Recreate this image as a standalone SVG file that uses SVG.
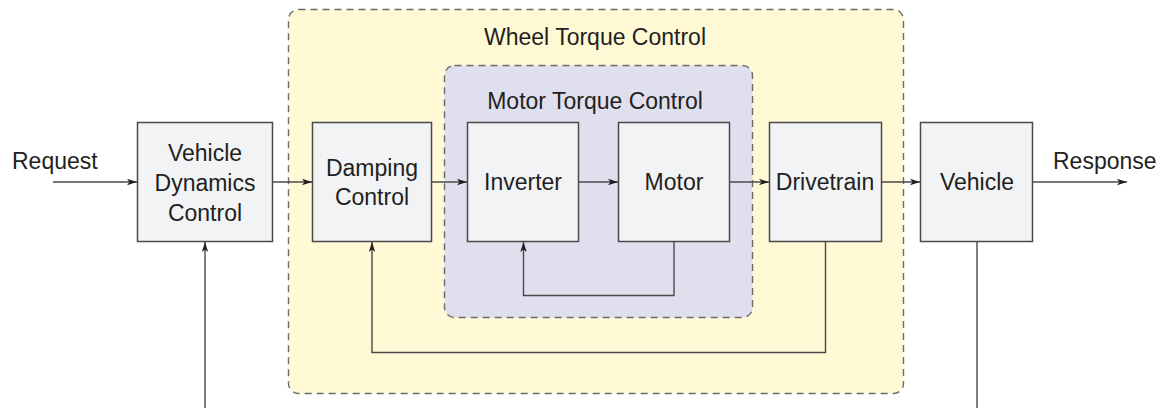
<svg xmlns="http://www.w3.org/2000/svg" width="1164" height="408" viewBox="0 0 1164 408">
<defs>
<style>
text{font-family:"Liberation Sans",Arial,sans-serif;font-size:23px;fill:#231f20}
.c{text-anchor:middle}
.box{fill:#f2f3f5;stroke:#4a4a4a;stroke-width:1.5}
.grp{stroke:#6b6b6b;stroke-width:1.4;stroke-dasharray:7 5}
.ln{fill:none;stroke:#4a4a4a;stroke-width:1.4}
</style>
<marker id="ah" viewBox="0 0 10 8" refX="10" refY="4" markerWidth="10" markerHeight="8" markerUnits="userSpaceOnUse" orient="auto">
<path d="M0,0.8 L10,4 L0,7.2 L2.5,4 z" fill="#231f20"/>
</marker>
</defs>
<rect width="1164" height="408" fill="#ffffff"/>
<g id="wheel-torque-control">
<rect class="grp" x="288.5" y="9.5" width="615" height="384" rx="10" fill="#fff9d6"/>
<text class="c" x="595" y="45">Wheel Torque Control</text>
</g>
<g id="motor-torque-control">
<rect class="grp" x="444.5" y="65.5" width="308" height="252" rx="10" fill="#e0dfee"/>
<text class="c" x="595" y="109">Motor Torque Control</text>
</g>
<g id="vehicle-dynamics-control">
<rect class="box" x="137.5" y="122.5" width="135" height="119"/>
<text class="c" x="205" y="161">Vehicle</text>
<text class="c" x="205" y="191">Dynamics</text>
<text class="c" x="205" y="221">Control</text>
</g>
<g id="damping-control">
<rect class="box" x="312.5" y="122.5" width="119" height="119"/>
<text class="c" x="372" y="175.5">Damping</text>
<text class="c" x="372" y="205">Control</text>
</g>
<g id="inverter">
<rect class="box" x="467.5" y="122.5" width="111" height="119"/>
<text class="c" x="523" y="190">Inverter</text>
</g>
<g id="motor">
<rect class="box" x="618.5" y="122.5" width="111" height="119"/>
<text class="c" x="674" y="190">Motor</text>
</g>
<g id="drivetrain">
<rect class="box" x="769.5" y="122.5" width="112" height="119"/>
<text class="c" x="825" y="190">Drivetrain</text>
</g>
<g id="vehicle">
<rect class="box" x="920.5" y="122.5" width="112" height="119"/>
<text class="c" x="977" y="190">Vehicle</text>
</g>
<g id="labels">
<text x="12" y="169">Request</text>
<text x="1053" y="169">Response</text>
</g>
<g id="connectors">
<path class="ln" d="M53,182 H137" marker-end="url(#ah)"/>
<path class="ln" d="M273,182 H312" marker-end="url(#ah)"/>
<path class="ln" d="M432,182 H467" marker-end="url(#ah)"/>
<path class="ln" d="M579,182 H618" marker-end="url(#ah)"/>
<path class="ln" d="M730,182 H769" marker-end="url(#ah)"/>
<path class="ln" d="M882,182 H920" marker-end="url(#ah)"/>
<path class="ln" d="M1033,182 H1127" marker-end="url(#ah)"/>
<path class="ln" d="M674,242 V295.5 H523.5 V242" marker-end="url(#ah)"/>
<path class="ln" d="M825.5,242 V352.5 H372 V242" marker-end="url(#ah)"/>
<path class="ln" d="M205,408 V242" marker-end="url(#ah)"/>
<path class="ln" d="M977,242 V408"/>
</g>
</svg>
